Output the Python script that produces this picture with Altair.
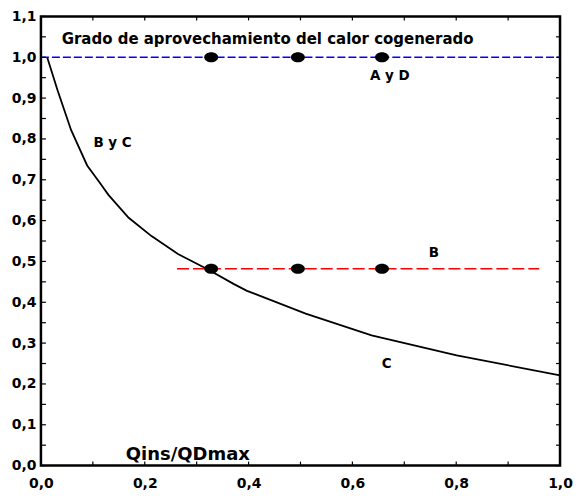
import altair as alt
import pandas as pd

# Curve "B y C" / "C"
curve_x = [0.012, 0.032, 0.058, 0.089, 0.112, 0.130, 0.169, 0.213, 0.264, 0.321, 0.371, 0.397, 0.510, 0.637, 0.801, 1.0]
curve_y = [1.0, 0.919, 0.822, 0.735, 0.695, 0.663, 0.607, 0.562, 0.518, 0.481, 0.445, 0.428, 0.372, 0.319, 0.270, 0.221]

# Horizontal dashed lines
blue_x = [0.0, 1.0]
blue_y = [1.0, 1.0]
red_x = [0.262, 0.960]
red_y = [0.482, 0.482]

# Black ellipse markers
pts_x = [0.328, 0.495, 0.657, 0.328, 0.495, 0.657]
pts_y = [1.0, 1.0, 1.0, 0.482, 0.482, 0.482]

# Annotations
lab_text = ["A y D", "B y C", "B", "C"]
lab_x = [0.672, 0.138, 0.757, 0.666]
lab_y = [0.954, 0.790, 0.521, 0.248]

title_text = ["Grado de aprovechamiento del calor cogenerado"]
title_x = [0.040]
title_y = [1.045]

xlab_text = ["Qins/QDmax"]
xlab_x = [0.283]
xlab_y = [0.027]

x_ticks = [0.0, 0.2, 0.4, 0.6, 0.8, 1.0]
y_ticks = [0.0, 0.1, 0.2, 0.3, 0.4, 0.5, 0.6, 0.7, 0.8, 0.9, 1.0, 1.1]
x_minor = [0.0, 0.1, 0.2, 0.3, 0.4, 0.5, 0.6, 0.7, 0.8, 0.9, 1.0]
y_minor = [0.05 * i for i in range(23)]

W, H = 520, 450
FONT = "DejaVu Sans"

xs = alt.Scale(domain=[0, 1.0], nice=False, zero=False)
ys = alt.Scale(domain=[0, 1.1], nice=False, zero=False)
fmt = "replace(format(datum.value, '.1f'), '.', ',')"

xax = alt.Axis(values=x_ticks, labelExpr=fmt, ticks=False, domain=False, grid=False,
               labelFont=FONT, labelFontSize=14, labelFontWeight="bold", labelColor="black",
               labelPadding=11, title=None, labelFlush=False)
yax = alt.Axis(values=y_ticks, labelExpr=fmt, ticks=False, domain=False, grid=False,
               labelFont=FONT, labelFontSize=14, labelFontWeight="bold", labelColor="black",
               labelPadding=5, title=None)

curve_df = pd.DataFrame({"x": curve_x, "y": curve_y})
curve = alt.Chart(curve_df).mark_line(color="black", strokeWidth=1.8).encode(
    x=alt.X("x:Q", scale=xs, axis=xax), y=alt.Y("y:Q", scale=ys, axis=yax))

blue = alt.Chart(pd.DataFrame({"x": blue_x, "y": blue_y})).mark_line(
    color="#0000ff", strokeWidth=1.6, strokeDash=[8, 3]).encode(
    x=alt.X("x:Q", scale=xs), y=alt.Y("y:Q", scale=ys))

red = alt.Chart(pd.DataFrame({"x": red_x, "y": red_y})).mark_line(
    color="#ff0000", strokeWidth=1.6, strokeDash=[12, 4]).encode(
    x=alt.X("x:Q", scale=xs), y=alt.Y("y:Q", scale=ys))

ellipse = "M -1 0 A 1 0.72 0 1 0 1 0 A 1 0.72 0 1 0 -1 0 Z"
pts = alt.Chart(pd.DataFrame({"x": pts_x, "y": pts_y})).mark_point(
    shape=ellipse, size=196, filled=True, color="black", opacity=1).encode(
    x=alt.X("x:Q", scale=xs), y=alt.Y("y:Q", scale=ys))

labels = alt.Chart(pd.DataFrame({"t": lab_text, "x": lab_x, "y": lab_y})).mark_text(
    font=FONT, fontSize=13.5, fontWeight="bold", color="black", align="center", baseline="middle").encode(
    x=alt.X("x:Q", scale=xs), y=alt.Y("y:Q", scale=ys), text="t:N")

title = alt.Chart(pd.DataFrame({"t": title_text, "x": title_x, "y": title_y})).mark_text(
    font=FONT, fontSize=15, fontWeight="bold", color="black", align="left", baseline="middle").encode(
    x=alt.X("x:Q", scale=xs), y=alt.Y("y:Q", scale=ys), text="t:N")

xlab = alt.Chart(pd.DataFrame({"t": xlab_text, "x": xlab_x, "y": xlab_y})).mark_text(
    font=FONT, fontSize=18, fontWeight="bold", color="black", align="center", baseline="middle").encode(
    x=alt.X("x:Q", scale=xs), y=alt.Y("y:Q", scale=ys), text="t:N")

xt_df = pd.DataFrame({"v": x_minor})
yt_df = pd.DataFrame({"v": y_minor})
tick_b = alt.Chart(xt_df).mark_rule(color="black", strokeWidth=1.2).encode(
    x=alt.X("v:Q", scale=xs), y=alt.value(H), y2=alt.value(H - 4))
tick_t = alt.Chart(xt_df).mark_rule(color="black", strokeWidth=1.2).encode(
    x=alt.X("v:Q", scale=xs), y=alt.value(0), y2=alt.value(4))
tick_l = alt.Chart(yt_df).mark_rule(color="black", strokeWidth=1.2).encode(
    y=alt.Y("v:Q", scale=ys), x=alt.value(0), x2=alt.value(5))
tick_r = alt.Chart(yt_df).mark_rule(color="black", strokeWidth=1.2).encode(
    y=alt.Y("v:Q", scale=ys), x=alt.value(W), x2=alt.value(W - 4))

chart = alt.layer(
    curve, blue, red, pts, labels, title, xlab, tick_b, tick_t, tick_l, tick_r
).properties(
    width=W, height=H,
    padding={"left": 3, "top": 1, "right": 0, "bottom": 0},
    background="white",
).configure_view(stroke="black", strokeWidth=2.5)

chart.save("out.html", embed_options={"renderer": "svg", "actions": False})
